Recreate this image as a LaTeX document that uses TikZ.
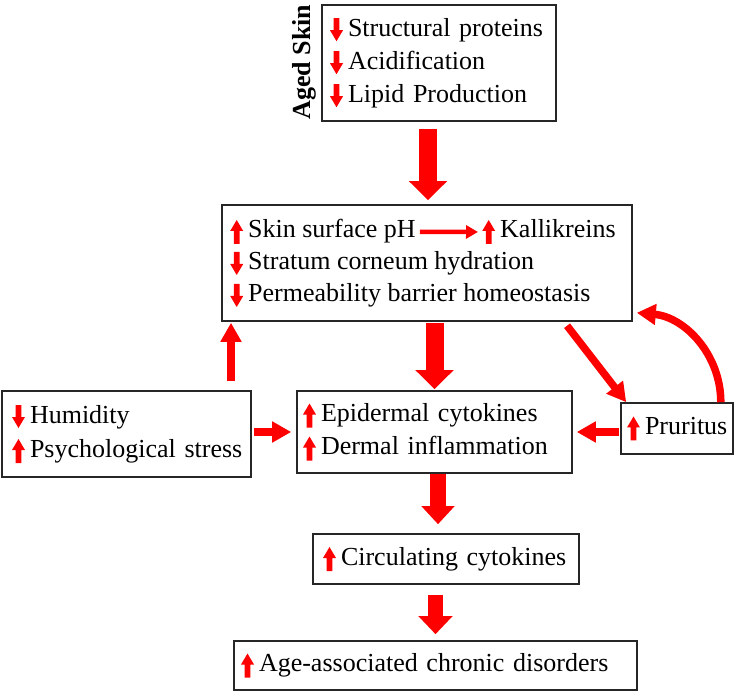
\documentclass[tikz,border=0pt]{standalone}
\usepackage{fontspec}
\setmainfont{Liberation Serif}
\usepackage{tikz}
\usetikzlibrary{arrows.meta, positioning, calc}
\tikzset{
    box/.style={
        draw=black!85,
        line width=1.6pt,
        inner ysep=1pt,
        align=left,
        font=\fontsize{26}{33}\selectfont
    },
    txt/.style={
        inner sep=0pt,
        anchor=base west,
        font=\fontsize{26}{33}\selectfont
    },
    bigarr/.style={
        draw=red,
        line width=18pt,
        -{Triangle[width=37pt,length=19pt]}
    },
    arr/.style={
        draw=red,
        line width=7.5pt,
        -{Triangle[width=20pt,length=19pt]}
    },
    thinarr/.style={
        draw=red,
        line width=4.5pt,
        -{Triangle[width=13pt,length=12pt]}
    }
}
% little red arrows in front of the texts
\newcommand{\incr}{\tikz[x=1pt,y=1pt,baseline=0pt]\fill[red] (-2.8,-6) -- (2.8,-6) -- (2.8,7) -- (6.5,7) -- (0,18) -- (-6.5,7) -- (-2.8,7) -- cycle;\hspace{5pt}}
\newcommand{\decr}{\tikz[x=1pt,y=1pt,baseline=0pt]\fill[red] (-2.8,18) -- (2.8,18) -- (2.8,6) -- (6.5,6) -- (0,-5) -- (-6.5,6) -- (-2.8,6) -- cycle;\hspace{5pt}}

\begin{document}
\begin{tikzpicture}[x=1pt,y=1pt]
    \useasboundingbox (0,0) rectangle (735,693);
    % boxes
    \node[box, minimum width=234, minimum height=116, inner xsep=8pt, text width=218pt] (aged) at (439,630)
        {\decr Structural proteins\\ \decr Acidification\\ \decr Lipid Production};
    \node[rotate=90, anchor=base, inner sep=0pt, font=\bfseries\fontsize{26}{30}\selectfont] (agedlbl) at (310,631) {Aged Skin};
    \node[box, minimum width=410, minimum height=116] (skin) at (427,430) {};
    \node[txt] (ph) at (230,455) {\incr Skin surface pH};
    \node[txt] (kal) at (482,455) {\incr Kallikreins};
    \node[txt] (hyd) at (230,423) {\decr Stratum corneum hydration};
    \node[txt] (perm) at (230,391) {\decr Permeability barrier homeostasis};
    \node[box, minimum width=249, minimum height=86, inner xsep=10pt, text width=229pt, font=\fontsize{26}{34}\selectfont] (hum) at (126.5,259)
        {\mbox{\decr Humidity}\\ \mbox{\incr Psychological stress}};
    \node[box, minimum width=275, minimum height=82, inner xsep=6pt, text width=263pt] (epi) at (434.5,261)
        {\incr Epidermal cytokines\\ \incr Dermal inflammation};
    \node[box, minimum width=112, minimum height=51, inner xsep=6pt, text width=100pt] (pru) at (677,264.5)
        {\mbox{\incr Pruritus}};
    \node[box, minimum width=266, minimum height=50, inner xsep=10pt, text width=246pt] (circ) at (446,134)
        {\incr Circulating cytokines};
    \node[box, minimum width=403, minimum height=49, inner xsep=7pt, text width=389pt] (age) at (435.5,27.5)
        {\incr Age-associated chronic disorders};

    % x positions of the vertical arrows
    \coordinate (a1) at (428,0);
    \coordinate (a2) at (434.5,0);
    \coordinate (a3) at (438,0);
    \coordinate (a4) at (435.5,0);
    \coordinate (u) at (231,0);
    \coordinate (dg) at (564,0);

    \draw[bigarr, shorten <=7pt, shorten >=4pt] (aged.south -| a1) -- (skin.north -| a1);
    \draw[bigarr, shorten <=1pt, shorten >=1pt] (skin.south -| a2) -- (epi.north -| a2);
    \draw[bigarr, line width=16pt, -{Triangle[width=32pt,length=18pt]}, shorten >=9pt] (epi.south -| a3) -- (circ.north -| a3);
    \draw[bigarr, line width=15pt, -{Triangle[width=33pt,length=18pt]}, shorten <=10pt, shorten >=6pt] (circ.south -| a4) -- (age.north -| a4);

    \draw[thinarr, shorten <=4pt, shorten >=4pt] (ph.east) -- (kal.west);
    \draw[arr, shorten <=9pt, shorten >=1pt] (hum.north -| u) -- (skin.south -| u);
    \draw[arr, shorten <=2pt, shorten >=5pt] (hum.east |- epi.west) -- (epi.west);
    \draw[arr, shorten <=1pt, shorten >=4pt] (pru.west |- epi.east) -- (epi.east);
    \draw[arr, shorten <=5pt] (skin.south -| dg) -- ([xshift=6pt]pru.north west);
    \draw[arr] ([xshift=-13pt]pru.north east) to[out=90, in=-5] ([shift={(4pt,9pt)}]skin.south east);
\end{tikzpicture}
\end{document}
